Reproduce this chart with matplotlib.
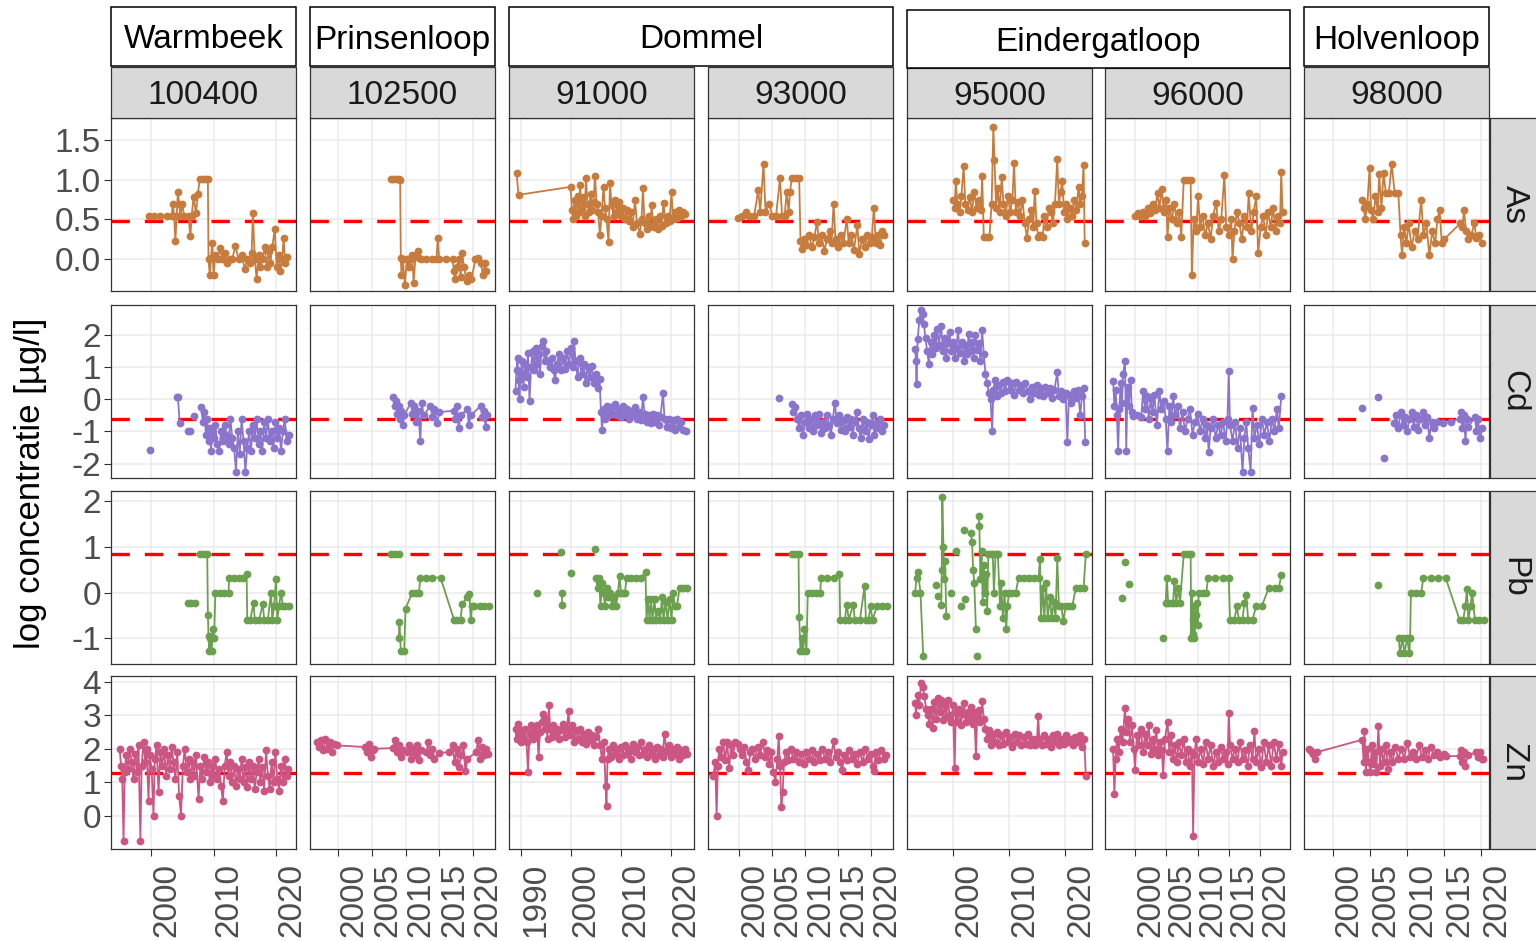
import numpy as np
import matplotlib
matplotlib.use("Agg")
import matplotlib.pyplot as plt
from matplotlib.patches import Rectangle

plt.rcParams['font.family'] = ['Liberation Sans', 'DejaVu Sans']

# ---------------- data ----------------
stations = ['100400', '102500', '91000', '93000', '95000', '96000', '98000']
rivers = ['Warmbeek', 'Prinsenloop', 'Dommel', 'Eindergatloop', 'Holvenloop']
river_cols = [[0], [1], [2, 3], [4, 5], [6]]
metals = ['As', 'Cd', 'Pb', 'Zn']
thresholds = [0.477, -0.62, 0.84, 1.29]
metal_colors = ['#C77C3E', '#8B74CC', '#6BA04F', '#CB5683']

x_ticks = [[2000, 2010, 2020], [2000, 2005, 2010, 2015, 2020], [1990, 2000, 2010, 2020],
           [2000, 2005, 2010, 2015, 2020], [2000, 2010, 2020],
           [2000, 2005, 2010, 2015, 2020], [2000, 2005, 2010, 2015, 2020]]
y_ticks = [[0.0, 0.5, 1.0, 1.5], [-2, -1, 0, 1, 2], [-1, 0, 1, 2], [0, 1, 2, 3, 4]]
y_ticklabels = [['0.0', '0.5', '1.0', '1.5'], ['-2', '-1', '0', '1', '2'],
                ['-1', '0', '1', '2'], ['0', '1', '2', '3', '4']]

# None = break in the line
AS_100400 = [(1999.6,0.54),(2000.5,0.54),(2001.5,0.54),(2002.5,0.54),(2003.3,0.54),(2003.5,0.70),(2003.7,0.54),(2003.9,0.23),(2004.1,0.54),(2004.3,0.85),(2004.5,0.70),(2004.7,0.54),(2005.0,0.70),(2005.3,0.54),(2006.0,0.54),(2006.3,0.29),(2006.5,0.54),(2006.8,0.78),(2007.2,0.58),(2007.5,0.82),(2007.8,1.01),(2008.3,1.01),(2008.8,1.01),(2009.1,1.01),(2009.2,0.0),(2009.4,-0.2),(2009.6,0.02),(2009.8,0.2),(2010.0,-0.2),(2010.3,0.05),(2010.7,0.0),(2011.0,0.14),(2011.4,0.0),(2011.8,0.08),(2012.2,-0.05),(2012.6,0.0),(2013.0,0.0),(2013.5,0.17),(2014.0,0.0),(2014.5,0.05),(2015.0,-0.12),(2015.4,0.0),(2015.8,-0.05),(2016.1,0.08),(2016.3,0.58),(2016.6,0.0),(2016.9,-0.25),(2017.2,0.05),(2017.5,-0.1),(2017.8,0.0),(2018.2,0.15),(2018.5,-0.1),(2018.8,0.1),(2019.1,-0.05),(2019.4,0.15),(2019.8,0.38),(2020.1,-0.1),(2020.4,0.05),(2020.7,-0.15),(2021.0,0.0),(2021.2,0.27),(2021.5,-0.05),(2021.8,0.03)]
AS_102500 = [(2007.8,1.01),(2008.2,1.01),(2008.6,1.01),(2009.0,1.01),(2009.2,1.0),(2009.3,0.02),(2009.4,-0.2),(2009.6,0.0),(2009.9,-0.32),(2010.2,0.0),(2010.5,-0.1),(2010.8,0.0),(2011.0,0.05),(2011.2,-0.3),(2011.5,0.05),(2011.8,0.1),(2012.0,0.02),(2012.3,0.0),(2013.0,0.0),(2014.0,0.0),(2014.6,0.0),(2014.8,0.27),(2015.0,0.0),(2016.0,0.0),(2017.0,0.0),(2017.2,-0.15),(2017.4,-0.25),(2017.6,-0.1),(2017.9,0.0),(2018.2,-0.22),(2018.4,0.08),(2018.7,-0.1),(2019.1,-0.28),(2019.5,-0.2),(2019.8,-0.25),(2020.4,0.0),(2020.8,0.02),(2021.2,-0.05),(2021.5,-0.2),(2021.8,-0.05),(2022.0,-0.15)]
AS_91000 = [(1989.2,1.09),(1989.6,0.81),(2000.0,0.91),(2000.3,0.62),(2000.5,0.5),(2000.8,0.75),(2001.1,0.55),(2001.4,0.8),(2001.7,0.6),(2001.9,0.93),(2002.2,0.65),(2002.5,0.78),(2002.8,0.55),(2003.1,1.02),(2003.4,0.7),(2003.7,0.6),(2004.0,0.82),(2004.3,0.62),(2004.6,0.72),(2004.9,1.05),(2005.2,0.7),(2005.5,0.6),(2005.9,0.3),(2006.2,0.55),(2006.6,0.91),(2006.9,0.65),(2007.2,0.5),(2007.6,0.22),(2007.9,0.96),(2008.2,0.68),(2008.6,0.55),(2008.9,0.75),(2009.3,0.6),(2009.6,0.72),(2010.0,0.55),(2010.4,0.65),(2010.8,0.5),(2011.2,0.62),(2011.6,0.48),(2012.0,0.6),(2012.4,0.4),(2012.9,0.74),(2013.3,0.45),(2013.9,0.32),(2014.2,0.5),(2014.5,0.89),(2014.8,0.45),(2015.2,0.38),(2015.6,0.55),(2016.0,0.42),(2016.2,0.68),(2016.6,0.4),(2017.0,0.5),(2017.4,0.38),(2017.8,0.55),(2018.2,0.42),(2018.6,0.71),(2019.0,0.45),(2019.4,0.55),(2019.8,0.48),(2020.2,0.84),(2020.5,0.5),(2020.9,0.6),(2021.3,0.52),(2021.7,0.62),(2022.1,0.55),(2022.5,0.6),(2022.9,0.57)]
AS_93000 = [(1999.9,0.52),(2000.5,0.55),(2001.0,0.6),(2001.5,0.55),(2002.3,0.55),(2002.9,0.87),(2003.2,0.6),(2003.7,1.2),(2004.0,0.6),(2004.6,0.7),(2005.0,0.55),(2005.6,0.55),(2006.2,1.02),(2006.5,0.55),(2006.9,0.55),(2007.2,0.84),(2007.5,0.6),(2007.7,0.84),(2008.0,1.02),(2008.6,1.02),(2009.1,1.02),(2009.3,0.23),(2009.5,0.13),(2009.8,0.25),(2010.2,0.18),(2010.6,0.3),(2011.0,0.15),(2011.4,0.28),(2011.8,0.47),(2012.1,0.2),(2012.5,0.3),(2012.9,0.1),(2013.3,0.25),(2013.7,0.35),(2014.0,0.2),(2014.3,0.7),(2014.6,0.25),(2015.0,0.15),(2015.4,0.3),(2015.8,0.2),(2016.3,0.51),(2016.6,0.2),(2017.0,0.3),(2017.4,0.12),(2017.9,0.43),(2018.2,0.06),(2018.6,0.25),(2019.0,0.15),(2019.4,0.3),(2019.8,0.2),(2020.1,0.28),(2020.4,0.65),(2020.7,0.2),(2021.0,0.3),(2021.4,0.18),(2021.7,0.35),(2022.0,0.3)]
AS_95000 = [(2000.0,0.75),(2000.3,0.65),(2000.5,0.98),(2000.8,0.7),(2001.2,0.6),(2001.5,0.8),(2001.9,1.17),(2002.2,0.7),(2002.6,0.62),(2003.0,0.78),(2003.4,0.6),(2003.8,0.85),(2004.2,0.65),(2004.6,0.75),(2005.0,0.62),(2005.2,1.05),(2005.5,0.28),(2006.0,0.28),(2006.5,0.28),(2006.9,0.7),(2007.2,1.67),(2007.4,1.25),(2007.7,0.65),(2008.0,0.9),(2008.3,0.6),(2008.7,1.03),(2009.0,0.7),(2009.4,0.55),(2009.8,0.8),(2010.2,0.6),(2010.6,0.75),(2010.9,1.21),(2011.2,0.6),(2011.6,0.72),(2012.0,0.55),(2012.4,0.75),(2012.8,0.45),(2013.2,0.27),(2013.6,0.5),(2014.0,0.62),(2014.3,0.4),(2014.6,0.86),(2014.9,0.45),(2015.2,0.28),(2015.6,0.3),(2016.0,0.28),(2016.3,0.55),(2016.7,0.4),(2017.1,0.65),(2017.5,0.59),(2017.8,0.45),(2018.2,0.7),(2018.6,1.26),(2018.9,0.7),(2019.2,0.85),(2019.5,0.98),(2019.8,0.6),(2020.1,0.7),(2020.4,0.5),(2020.8,0.65),(2021.2,0.55),(2021.6,0.75),(2022.0,0.62),(2022.4,0.91),(2022.7,0.7),(2023.0,0.8),(2023.3,1.19),(2023.5,0.2)]
AS_96000 = [(2000.0,0.54),(2000.4,0.58),(2000.8,0.54),(2001.2,0.6),(2001.6,0.55),(2002.0,0.65),(2002.4,0.58),(2002.8,0.7),(2003.2,0.62),(2003.6,0.83),(2003.9,0.65),(2004.3,0.88),(2004.6,0.6),(2005.0,0.75),(2005.2,0.28),(2005.5,0.65),(2005.9,0.5),(2006.3,0.7),(2006.7,0.45),(2007.1,0.6),(2007.4,0.28),(2007.8,1.0),(2008.3,1.0),(2008.9,1.0),(2009.1,-0.2),(2009.4,0.5),(2009.8,0.35),(2010.1,0.8),(2010.4,0.4),(2010.8,0.55),(2011.2,0.3),(2011.7,0.45),(2012.1,0.25),(2012.5,0.55),(2013.0,0.71),(2013.4,0.35),(2013.8,0.5),(2014.3,1.06),(2014.6,0.4),(2015.0,0.3),(2015.4,0.5),(2015.6,0.0),(2015.9,0.35),(2016.3,0.6),(2016.7,0.45),(2017.1,0.25),(2017.5,0.55),(2017.9,0.4),(2018.2,0.83),(2018.6,0.35),(2019.0,0.6),(2019.4,0.79),(2019.7,0.08),(2020.1,0.4),(2020.5,0.55),(2020.9,0.3),(2021.3,0.6),(2021.7,0.4),(2022.1,0.65),(2022.5,0.35),(2022.9,0.55),(2023.2,0.45),(2023.4,1.1),(2023.6,0.59)]
AS_98000 = [(2003.9,0.75),(2004.1,0.65),(2004.3,0.5),(2004.6,0.7),(2004.9,1.15),(2005.1,0.62),(2005.4,0.5),(2005.7,0.8),(2006.0,0.6),(2006.2,1.07),(2006.5,0.65),(2006.8,1.09),(2007.1,0.83),(2007.5,0.83),(2007.9,1.2),(2008.3,0.83),(2008.8,0.83),(2009.1,0.3),(2009.3,0.05),(2009.6,0.4),(2009.9,0.2),(2010.2,0.45),(2010.6,0.15),(2011.0,0.35),(2011.4,0.25),(2011.9,0.75),(2012.2,0.3),(2012.6,0.45),(2013.0,0.05),(2013.4,0.35),(2013.8,0.2),(2014.1,0.5),(2014.4,0.62),(2014.7,0.2),(2015.0,0.25),(2017.2,0.45),(2017.5,0.4),(2017.7,0.62),(2018.0,0.35),(2018.3,0.25),(2018.7,0.3),(2019.1,0.45),(2019.4,0.27),(2019.8,0.3),(2020.2,0.2)]

CD_100400 = [(1999.85,-1.59),None,(2004.1,0.07),(2004.3,0.07),(2004.6,-0.75),None,(2005.9,-1.0),(2006.2,-1.0),None,(2006.8,-0.52),None,(2008.0,-0.23),(2008.3,-0.7),(2008.5,-0.4),(2008.8,-1.1),(2009.0,-0.6),(2009.2,-1.3),(2009.4,-0.9),(2009.6,-1.6),(2009.8,-1.0),(2010.0,-1.2),(2010.3,-0.8),(2010.6,-1.4),(2010.9,-1.6),(2011.2,-1.0),(2011.5,-1.3),(2011.8,-0.8),(2012.1,-1.1),(2012.4,-1.4),(2012.7,-0.6),(2013.0,-1.2),(2013.3,-1.5),(2013.6,-2.25),(2013.9,-1.0),(2014.2,-1.7),(2014.5,-0.6),(2014.8,-1.3),(2015.1,-2.25),(2015.4,-1.5),(2015.7,-1.0),(2016.0,-1.6),(2016.3,-0.8),(2016.6,-1.2),(2016.9,-0.6),(2017.2,-1.4),(2017.5,-1.0),(2017.8,-1.6),(2018.1,-0.7),(2018.4,-1.2),(2018.7,-0.6),(2019.0,-1.3),(2019.3,-1.0),(2019.6,-1.5),(2019.9,-0.7),(2020.2,-1.2),(2020.5,-0.9),(2020.8,-1.6),(2021.1,-1.0),(2021.4,-0.6),(2021.7,-1.3),(2022.0,-1.1)]
CD_102500 = [(2008.2,0.07),(2008.4,-0.2),(2008.6,-0.05),(2008.8,-0.45),(2009.0,-0.2),(2009.2,-0.6),(2009.4,-0.35),(2009.6,-0.8),(2009.8,-0.5),(2010.8,-0.1),(2011.0,-0.45),(2011.3,-0.2),(2011.6,-0.7),(2011.9,-0.35),(2012.2,-1.31),(2012.4,-0.1),(2012.7,-0.5),(2013.7,-0.2),(2014.0,-0.55),(2014.3,-0.3),(2014.7,-0.75),(2015.0,-0.4),(2017.2,-0.35),(2017.4,-0.6),(2017.6,-0.2),(2017.9,-0.9),(2018.2,-0.5),(2019.2,-0.3),(2019.4,-0.8),(2019.7,-0.5),(2021.2,-0.2),(2021.4,-0.55),(2021.6,-0.35),(2021.9,-0.85),(2022.1,-0.5)]
CD_91000 = [(1989.0,0.26),(1989.2,0.9),(1989.4,1.3),(1989.6,0.6),(1989.8,0.0),(1990.0,0.8),(1990.3,1.2),(1990.6,0.4),(1990.9,1.1),(1991.2,0.7),(1991.5,1.45),(1991.8,-0.05),(1992.1,1.0),(1992.4,1.5),(1992.7,0.9),(1993.0,1.6),(1993.3,1.1),(1993.6,1.4),(1993.9,0.8),(1994.2,1.65),(1994.5,1.83),(1994.8,1.2),(1995.1,1.5),(1995.4,1.2),(1995.8,1.0),(1996.2,1.3),(1996.6,0.9),(1996.9,0.6),(1997.3,1.1),(1997.7,1.4),(1998.1,0.9),(1998.5,1.3),(1998.9,0.95),(1999.3,1.5),(1999.7,1.1),(2000.1,1.6),(2000.5,1.0),(2000.7,1.83),(2001.0,1.2),(2001.4,0.7),(2001.8,1.3),(2002.2,0.8),(2002.6,1.1),(2003.0,0.5),(2003.4,1.0),(2003.8,0.7),(2004.2,1.05),(2004.6,0.5),(2005.0,0.8),(2005.4,0.35),(2005.8,0.65),(2006.1,-0.4),(2006.3,-0.95),(2006.6,-0.3),(2006.9,-0.6),(2007.3,-0.2),(2007.7,-0.5),(2008.1,-0.25),(2008.5,-0.45),(2008.9,-0.15),(2009.3,-0.5),(2009.7,-0.3),(2010.1,-0.55),(2010.5,-0.2),(2010.9,-0.45),(2011.3,-0.3),(2011.7,-0.6),(2012.1,-0.35),(2012.5,-0.5),(2012.9,-0.25),(2013.3,-0.6),(2013.7,-0.4),(2014.1,-0.65),(2014.5,0.07),(2014.8,-0.45),(2015.2,-0.7),(2015.6,-0.5),(2016.0,-0.75),(2016.4,-0.45),(2016.8,-0.7),(2017.2,-0.5),(2017.6,-0.8),(2018.0,-0.55),(2018.5,0.2),(2018.8,-0.6),(2019.2,-0.85),(2019.6,-0.6),(2020.0,-0.9),(2020.4,-0.65),(2020.8,-0.95),(2021.2,-0.6),(2021.6,-0.85),(2022.0,-0.7),(2022.5,-0.95),(2023.0,-1.0)]
CD_93000 = [(2006.1,0.05),None,(2008.0,-0.16),(2008.2,-0.4),(2008.5,-0.25),(2008.8,-0.6),(2009.1,-0.9),(2009.4,-0.5),(2009.7,-1.1),(2010.0,-0.7),(2010.3,-0.45),(2010.6,-0.9),(2010.9,-0.6),(2011.2,-1.0),(2011.5,-0.5),(2011.8,-0.8),(2012.1,-0.45),(2012.4,-1.05),(2012.7,-0.7),(2013.0,-0.9),(2013.3,-0.5),(2013.6,-0.8),(2013.9,-1.1),(2014.2,-0.6),(2014.5,-0.1),(2014.8,-0.75),(2015.1,-0.5),(2015.4,-0.95),(2015.7,-0.65),(2016.0,-1.0),(2016.3,-0.55),(2016.6,-0.85),(2016.9,-0.6),(2017.2,-1.1),(2017.5,-0.7),(2017.8,-0.4),(2018.1,-0.9),(2018.4,-1.2),(2018.7,-0.6),(2019.0,-1.0),(2019.3,-0.7),(2019.6,-1.25),(2019.9,-0.8),(2020.2,-0.5),(2020.5,-1.1),(2020.8,-0.75),(2021.1,-0.9),(2021.4,-0.6),(2021.7,-1.0),(2022.0,-0.8)]
CD_95000 = [(1993.25,1.57),(1993.4,1.2),(1993.5,0.47),(1993.7,1.88),(1994.0,2.46),(1994.3,2.78),(1994.6,2.67),(1994.8,2.36),(1995.1,1.9),(1995.4,1.5),(1995.7,1.1),(1996.0,1.8),(1996.3,1.4),(1996.6,2.0),(1996.9,1.6),(1997.2,2.2),(1997.5,1.7),(1997.9,2.3),(1998.2,1.5),(1998.5,1.9),(1998.8,1.3),(1999.1,1.75),(1999.4,2.1),(1999.7,1.5),(2000.0,1.8),(2000.3,1.3),(2000.6,1.6),(2000.9,2.15),(2001.2,1.45),(2001.6,1.8),(2001.9,1.2),(2002.2,1.7),(2002.5,1.4),(2002.8,2.05),(2003.1,1.5),(2003.4,1.8),(2003.7,1.3),(2004.0,2.0),(2004.3,1.55),(2004.6,1.75),(2004.9,1.2),(2005.2,2.15),(2005.5,1.4),(2005.8,0.8),(2006.1,0.5),(2006.4,0.2),(2006.7,0.0),(2007.0,-1.0),(2007.2,0.3),(2007.5,0.6),(2007.8,0.1),(2008.1,0.45),(2008.5,0.2),(2008.9,0.55),(2009.3,0.25),(2009.7,0.6),(2010.1,0.3),(2010.5,0.5),(2010.9,0.15),(2011.3,0.55),(2011.7,0.3),(2012.1,0.45),(2012.5,0.2),(2012.9,0.5),(2013.3,0.25),(2013.7,0.0),(2014.1,0.4),(2014.5,0.2),(2014.9,0.45),(2015.3,0.15),(2015.7,0.35),(2016.1,0.1),(2016.5,0.4),(2016.9,0.2),(2017.3,0.35),(2017.7,0.05),(2018.1,0.3),(2018.6,0.84),(2018.9,0.1),(2019.3,0.25),(2019.7,0.0),(2020.1,0.2),(2020.4,-1.32),(2020.7,0.15),(2021.1,-0.1),(2021.5,0.25),(2021.9,0.05),(2022.3,0.3),(2022.7,-0.5),(2023.0,0.1),(2023.3,0.35),(2023.6,-1.32)]
CD_96000 = [(1996.5,0.58),(1996.7,-0.2),(1996.9,0.3),(1997.1,-0.5),(1997.3,-1.6),(1997.5,-0.3),(1997.7,0.5),(1997.9,-0.1),(1998.1,0.8),(1998.4,1.2),(1998.6,-1.6),(1998.8,0.4),(1999.0,-0.2),(1999.3,0.6),(1999.5,-0.4),(1999.7,-0.51),(2000.3,-0.5),(2001.0,-0.55),(2001.3,0.26),(2001.6,-0.3),(2001.9,0.1),(2002.2,-0.6),(2002.5,0.0),(2002.8,-0.4),(2003.1,0.15),(2003.5,-0.8),(2003.9,0.26),(2004.2,-0.3),(2004.6,-0.05),(2004.9,-0.6),(2005.2,-1.6),(2005.5,-0.2),(2005.8,-0.7),(2006.1,0.1),(2006.4,-0.5),(2006.8,-0.2),(2007.2,-0.9),(2007.6,-0.4),(2008.0,-1.0),(2008.4,-0.6),(2008.8,-0.3),(2009.2,-1.1),(2009.6,-0.7),(2010.0,-0.45),(2010.4,-1.0),(2010.8,-0.6),(2011.2,-1.2),(2011.5,-0.8),(2011.8,-1.64),(2012.1,-0.9),(2012.5,-0.6),(2012.9,-1.2),(2013.3,-0.8),(2013.7,-1.1),(2014.1,-0.7),(2014.5,-1.3),(2014.8,-0.6),(2015.0,0.89),(2015.2,-0.8),(2015.6,-1.3),(2016.0,-0.7),(2016.4,-1.5),(2016.8,-0.9),(2017.2,-2.25),(2017.5,-1.2),(2017.8,-0.7),(2018.1,-1.5),(2018.5,-2.25),(2018.8,-0.26),(2019.1,-1.2),(2019.5,-0.8),(2019.9,-1.4),(2020.3,-0.6),(2020.7,-1.1),(2021.1,-0.7),(2021.5,-1.3),(2021.9,-0.6),(2022.3,-1.0),(2022.7,-0.3),(2023.0,-0.9),(2023.4,0.1)]
CD_98000 = [(2003.9,-0.26),None,(2006.1,0.07),None,(2006.9,-1.83),None,(2008.2,-0.73),(2008.5,-0.5),(2008.8,-0.9),(2009.1,-0.4),(2009.4,-0.8),(2009.7,-0.55),(2010.0,-1.0),(2010.3,-0.6),(2010.6,-0.4),(2010.9,-0.85),(2011.2,-0.5),(2011.5,-0.95),(2011.8,-0.6),(2012.1,-0.4),(2012.4,-0.8),(2012.7,-0.55),(2013.0,-1.2),(2013.3,-0.7),(2013.6,-0.9),(2014.0,-0.7),(2014.9,-0.75),(2016.0,-0.7),(2017.1,-0.6),(2017.3,-0.4),(2017.5,-0.9),(2017.7,-0.5),(2017.9,-1.3),(2018.1,-0.6),(2018.3,-0.85),(2019.2,-0.55),(2019.4,-1.0),(2019.6,-0.6),(2019.9,-1.2),(2020.2,-0.9)]

PB_100400 = [(2005.9,-0.22),(2006.4,-0.22),(2007.0,-0.22),None,(2007.8,0.84),(2008.4,0.84),(2009.0,0.84),(2009.1,-0.48),(2009.2,-0.95),(2009.3,-1.28),(2009.5,-1.0),(2009.7,-1.28),(2009.9,-0.8),(2010.1,-1.0),(2010.3,0.0),(2011.0,0.0),(2011.7,0.0),(2012.4,0.0),(2012.5,0.33),(2013.2,0.33),(2014.0,0.33),(2014.7,0.33),(2015.3,0.4),(2015.4,-0.59),(2015.9,-0.59),(2016.4,-0.22),(2016.6,-0.59),(2017.3,-0.59),(2017.9,-0.25),(2018.1,-0.59),(2018.7,-0.59),(2019.2,0.0),(2019.4,-0.59),(2019.7,-0.29),(2020.0,0.3),(2020.2,-0.59),(2020.5,-0.29),(2020.8,0.0),(2021.1,-0.29),(2021.5,-0.29),(2022.0,-0.29)]
PB_102500 = [(2007.8,0.84),(2008.4,0.84),(2009.0,0.84),None,(2009.0,-1.0),(2009.1,-0.65),(2009.3,-1.28),(2009.8,-1.28),(2010.0,-0.35),(2011.0,0.0),(2011.5,0.0),(2012.0,0.0),(2012.2,0.33),(2013.0,0.33),(2014.0,0.33),(2015.2,0.33),(2017.2,-0.59),(2017.7,-0.59),(2018.2,-0.59),(2018.4,-0.25),(2019.2,-0.1),(2019.5,-0.04),(2019.7,-0.6),(2019.9,-0.29),(2020.2,-0.29),(2021.0,-0.29),(2021.7,-0.29),(2022.4,-0.29)]
PB_91000 = [(1993.2,0.0),None,(1998.1,0.88),None,(1998.3,0.0),(1998.3,-0.26),None,(2000.1,0.42),None,(2004.9,0.95),None,(2005.1,0.33),(2005.4,0.1),(2005.7,0.33),(2006.0,-0.3),(2006.3,0.2),(2006.6,0.0),(2006.9,-0.3),(2007.2,0.1),(2007.5,-0.1),(2007.9,0.0),(2008.3,-0.3),(2008.7,-0.1),(2009.1,-0.3),(2009.5,0.0),(2009.8,0.36),(2010.1,0.0),(2010.5,0.0),(2010.9,0.0),(2011.2,0.33),(2012.0,0.33),(2013.0,0.33),(2014.0,0.33),(2015.0,0.44),(2015.2,-0.59),(2015.5,-0.15),(2015.8,-0.59),(2016.1,-0.15),(2016.4,-0.59),(2016.8,-0.15),(2017.1,-0.59),(2017.5,-0.4),(2017.9,-0.59),(2018.3,-0.1),(2018.6,-0.59),(2019.0,-0.2),(2019.4,-0.59),(2019.8,-0.15),(2020.2,-0.59),(2020.5,0.0),(2020.9,-0.3),(2021.3,-0.3),(2021.8,0.1),(2022.5,0.1),(2023.2,0.1)]
PB_93000 = [(2008.0,0.84),(2008.5,0.84),(2009.0,0.84),(2009.1,-0.54),(2009.3,-1.28),(2009.5,-1.0),(2009.7,-1.28),(2009.9,-0.8),(2010.2,-1.28),(2010.4,0.0),(2011.0,0.0),(2011.7,0.0),(2012.3,0.0),(2012.4,0.33),(2013.3,0.33),(2014.3,0.33),(2015.2,0.4),(2015.3,-0.59),(2016.0,-0.59),(2016.3,-0.26),(2016.6,-0.59),(2017.3,-0.26),(2017.5,-0.59),(2018.3,-0.59),(2019.0,0.15),(2019.2,-0.59),(2019.6,-0.59),(2019.9,-0.3),(2020.2,-0.59),(2020.9,-0.29),(2021.6,-0.29),(2022.4,-0.29)]
PB_95000 = [(1993.25,0.0),(1993.5,0.33),(1993.8,0.44),(1994.2,0.0),(1994.7,-1.39),None,(1996.9,0.16),None,(1997.4,-0.08),None,(1997.9,-0.26),(1998.0,0.5),(1998.1,2.09),(1998.3,1.0),(1998.4,0.3),None,(1998.6,0.7),(1998.8,-0.52),None,(1999.6,0.0),None,(2000.5,0.9),None,(2001.5,-0.3),None,(2001.9,1.37),None,(2002.2,-0.15),None,(2003.2,1.3),(2003.4,1.1),(2003.6,0.5),(2003.8,0.2),(2004.1,-0.8),None,(2004.3,-1.39),None,(2004.6,1.68),(2004.7,1.46),(2004.9,0.3),(2005.1,0.9),(2005.3,-0.2),(2005.5,0.6),(2005.7,0.0),(2005.9,0.4),(2006.1,-0.4),(2006.3,0.84),(2006.7,0.84),(2007.1,0.84),(2007.3,0.0),(2007.6,0.84),(2008.0,0.84),(2008.4,-0.3),(2008.6,0.2),(2008.9,-0.55),(2009.2,0.0),(2009.5,-0.8),(2009.7,-0.3),(2010.0,0.0),(2010.6,0.0),(2011.2,0.0),(2011.7,0.33),(2012.6,0.33),(2013.5,0.33),(2014.4,0.33),(2015.3,0.33),(2015.5,0.73),(2015.7,-0.56),(2016.0,0.1),(2016.3,-0.56),(2016.6,0.2),(2016.9,-0.56),(2017.3,-0.1),(2017.6,-0.56),(2018.0,-0.2),(2018.3,-0.56),(2018.6,0.76),(2018.9,-0.29),(2019.3,-0.29),(2019.7,-0.62),(2020.1,-0.29),(2020.7,-0.29),(2021.3,-0.29),(2021.9,0.1),(2022.6,0.1),(2023.3,0.1),(2023.7,0.84)]
PB_96000 = [(1997.9,-0.12),None,(1998.4,0.66),None,(1999.0,0.18),None,(2004.5,-1.0),None,(2004.9,-0.22),(2005.1,0.31),(2005.3,-0.22),(2005.7,-0.22),(2006.1,-0.22),(2006.3,0.26),(2006.6,-0.22),(2006.9,0.1),(2007.2,-0.22),(2007.8,0.84),(2008.4,0.84),(2008.9,0.84),(2009.0,-1.0),(2009.1,0.0),(2009.2,-0.6),(2009.3,-0.9),(2009.4,-0.3),(2009.5,-1.0),(2009.7,-0.5),(2009.9,-0.22),(2010.0,-0.7),(2010.2,0.0),(2010.8,0.0),(2011.4,0.0),(2011.7,0.33),(2012.8,0.33),(2014.0,0.33),(2015.0,0.33),(2015.2,-0.59),(2015.9,-0.59),(2016.3,-0.3),(2016.6,-0.59),(2017.2,-0.59),(2017.5,-0.22),(2017.8,-0.05),(2018.1,-0.59),(2018.8,-0.59),(2019.4,-0.29),(2020.3,-0.29),(2021.4,0.1),(2022.4,0.1),(2023.0,0.1),(2023.4,0.38)]
PB_98000 = [(2006.1,0.16),None,(2008.9,-1.0),(2009.0,-1.33),(2009.4,-1.0),(2009.6,-1.33),(2010.0,-1.0),(2010.3,-1.33),(2010.4,-1.0),(2010.5,0.0),(2011.2,0.0),(2011.9,0.0),(2012.2,0.33),(2013.2,0.33),(2014.2,0.33),(2015.2,0.33),(2017.1,-0.59),(2017.6,-0.59),(2017.9,-0.29),(2018.1,0.07),(2018.3,-0.59),(2018.6,-0.29),(2018.8,0.0),(2019.2,-0.6),(2019.8,-0.6),(2020.4,-0.6)]

ZN_100400 = [(1995.0,1.98),(1995.2,1.5),(1995.4,1.1),(1995.6,-0.74),(1995.8,1.3),(1996.0,1.8),(1996.3,1.4),(1996.6,2.0),(1996.9,1.6),(1997.2,1.1),(1997.5,1.85),(1997.8,1.3),(1998.0,2.1),(1998.3,-0.74),(1998.5,1.5),(1998.8,2.2),(1999.1,1.6),(1999.3,2.0),(1999.6,0.43),(1999.8,1.8),(2000.1,1.4),(2000.4,0.0),(2000.6,1.7),(2000.9,2.1),(2001.2,0.7),(2001.5,1.9),(2001.8,1.5),(2002.1,2.0),(2002.4,1.2),(2002.7,1.8),(2003.0,1.4),(2003.3,2.05),(2003.6,1.6),(2003.9,1.1),(2004.2,1.9),(2004.5,0.6),(2004.8,0.0),(2005.1,1.5),(2005.4,2.0),(2005.7,1.3),(2006.0,1.7),(2006.3,1.1),(2006.6,1.6),(2006.9,1.2),(2007.2,1.8),(2007.6,0.5),(2007.9,1.5),(2008.2,1.1),(2008.5,1.75),(2008.8,1.3),(2009.1,1.6),(2009.4,1.0),(2009.7,1.5),(2010.0,1.2),(2010.3,1.7),(2010.6,1.1),(2010.9,1.4),(2011.2,0.9),(2011.5,0.43),(2011.8,1.5),(2012.1,1.9),(2012.4,1.2),(2012.7,1.6),(2013.0,1.0),(2013.3,1.5),(2013.6,0.9),(2013.9,1.4),(2014.2,1.1),(2014.5,1.7),(2014.8,1.0),(2015.1,1.45),(2015.4,0.85),(2015.7,1.6),(2016.0,1.1),(2016.3,1.5),(2016.6,0.8),(2016.9,1.3),(2017.2,1.7),(2017.5,1.0),(2017.8,1.45),(2018.1,0.75),(2018.4,1.95),(2018.7,1.2),(2019.0,0.8),(2019.3,1.6),(2019.6,1.0),(2019.9,1.9),(2020.2,1.1),(2020.5,0.75),(2020.8,1.5),(2021.1,1.0),(2021.4,1.7),(2021.7,1.2),(2021.9,1.4)]
ZN_102500 = [(1996.9,2.2),(1997.2,2.05),(1997.5,2.25),(1997.8,1.95),(1998.1,2.3),(1998.4,2.0),(1998.7,2.2),(1999.0,1.9),(1999.3,2.15),(1999.8,2.1),(2004.0,2.05),(2004.3,1.9),(2004.5,2.15),(2004.8,1.75),(2005.1,1.95),(2005.3,2.0),(2008.1,2.02),(2008.4,2.25),(2008.7,1.9),(2009.0,2.1),(2009.3,1.75),(2009.6,1.95),(2010.2,1.9),(2010.5,2.1),(2010.8,1.7),(2011.1,2.0),(2011.4,1.8),(2011.7,2.1),(2012.0,1.65),(2012.3,1.95),(2013.1,1.9),(2013.4,2.2),(2013.7,1.8),(2014.0,2.0),(2014.3,1.7),(2015.0,1.88),(2016.5,1.9),(2017.0,2.1),(2017.3,1.6),(2017.6,2.0),(2017.9,1.45),(2018.3,1.8),(2018.6,2.1),(2018.9,1.33),(2019.2,1.7),(2020.5,1.9),(2020.8,2.25),(2021.1,1.7),(2021.4,2.05),(2021.7,1.8),(2022.0,2.0),(2022.3,1.85)]
ZN_91000 = [(1989.0,2.6),(1989.2,2.3),(1989.4,2.75),(1989.7,2.4),(1990.0,2.2),(1990.3,2.55),(1990.6,2.3),(1990.9,2.6),(1991.2,2.2),(1991.5,1.32),(1991.8,2.45),(1992.1,2.7),(1992.4,2.3),(1992.7,2.6),(1993.0,2.35),(1993.3,2.7),(1993.6,1.75),(1993.9,2.5),(1994.2,2.8),(1994.5,3.05),(1994.8,2.6),(1995.1,2.9),(1995.4,2.3),(1995.7,3.31),(1995.9,2.6),(1996.2,2.35),(1996.5,2.7),(1996.9,2.45),(1997.3,2.6),(1997.7,2.3),(1998.1,2.55),(1998.5,2.75),(1998.9,2.35),(1999.3,2.6),(1999.6,3.14),(1999.9,2.4),(2000.3,2.7),(2000.7,2.2),(2001.1,2.55),(2001.5,2.3),(2001.9,2.6),(2002.3,2.2),(2002.7,2.45),(2003.1,2.15),(2003.5,2.5),(2003.9,2.25),(2004.3,2.4),(2004.7,2.1),(2005.1,2.35),(2005.5,2.6),(2005.9,2.1),(2006.3,1.7),(2006.7,2.2),(2007.0,0.9),(2007.2,0.3),(2007.4,1.7),(2007.7,2.0),(2008.0,1.75),(2008.4,2.1),(2008.8,1.85),(2009.2,2.0),(2009.6,1.7),(2010.0,2.05),(2010.4,1.8),(2010.8,2.1),(2011.2,1.85),(2011.6,2.0),(2012.0,1.7),(2012.4,2.15),(2012.8,1.9),(2013.2,2.05),(2013.6,1.8),(2014.0,2.2),(2014.4,1.85),(2014.8,2.0),(2015.2,1.75),(2015.6,2.1),(2016.0,1.85),(2016.4,2.0),(2016.8,1.7),(2017.2,2.05),(2017.6,1.8),(2018.0,2.0),(2018.4,1.75),(2018.8,2.45),(2019.2,1.9),(2019.6,2.1),(2020.0,1.75),(2020.4,2.0),(2020.8,1.85),(2021.2,2.05),(2021.6,1.7),(2022.0,1.95),(2022.4,1.8),(2022.8,2.0),(2023.2,1.85)]
ZN_93000 = [(1996.1,1.2),(1996.4,1.6),(1996.6,0.0),(1996.8,1.5),(1997.0,2.0),(1997.3,1.75),(1997.6,2.2),(1997.9,1.65),(1998.2,2.2),(1998.5,1.42),(1998.8,2.1),(1999.1,1.8),(1999.4,2.2),(1999.8,2.15),(2000.2,2.0),(2000.5,1.8),(2000.8,2.05),(2001.1,1.6),(2001.4,1.38),(2001.7,1.9),(2002.0,2.0),(2002.4,1.7),(2002.8,2.05),(2003.2,1.8),(2003.6,2.2),(2004.0,1.75),(2004.3,1.95),(2004.6,1.55),(2004.9,1.9),(2005.2,1.3),(2005.5,1.02),(2005.8,1.7),(2006.0,2.37),(2006.2,1.5),(2006.4,0.26),(2006.6,0.7),(2006.8,1.6),(2007.1,1.9),(2007.4,1.65),(2007.8,2.0),(2008.2,1.7),(2008.6,1.9),(2009.0,1.6),(2009.4,1.85),(2009.8,1.55),(2010.2,1.9),(2010.6,1.7),(2011.0,1.95),(2011.4,1.6),(2011.8,1.85),(2012.2,1.65),(2012.6,2.0),(2013.0,1.7),(2013.4,1.9),(2013.8,1.6),(2014.3,2.23),(2014.6,1.75),(2015.0,1.9),(2015.3,1.6),(2015.6,1.38),(2015.9,1.8),(2016.3,1.65),(2016.7,1.95),(2017.1,1.7),(2017.5,1.85),(2017.9,1.55),(2018.3,1.9),(2018.7,1.6),(2019.1,2.0),(2019.5,1.7),(2019.9,1.85),(2020.2,1.5),(2020.4,1.35),(2020.7,1.9),(2021.1,1.65),(2021.5,1.95),(2021.9,1.7),(2022.2,1.8)]
ZN_95000 = [(1993.25,3.36),(1993.4,3.01),(1993.7,3.61),(1994.0,3.3),(1994.3,3.95),(1994.6,3.85),(1994.9,3.56),(1995.2,3.2),(1995.5,3.0),(1995.8,2.75),(1996.1,3.2),(1996.4,2.62),(1996.7,3.4),(1997.0,2.9),(1997.3,3.5),(1997.6,3.1),(1997.9,3.45),(1998.2,2.85),(1998.5,3.3),(1998.8,2.95),(1999.1,3.45),(1999.4,3.0),(1999.7,2.8),(2000.0,3.3),(2000.3,1.43),(2000.5,3.1),(2000.8,2.8),(2001.1,3.2),(2001.4,2.7),(2001.7,3.05),(2002.0,3.35),(2002.3,2.8),(2002.6,3.1),(2002.9,2.9),(2003.2,3.25),(2003.5,2.75),(2003.8,3.1),(2004.1,1.78),(2004.3,2.9),(2004.6,3.15),(2004.9,2.8),(2005.2,3.41),(2005.5,2.9),(2005.8,2.6),(2006.1,2.3),(2006.4,2.55),(2006.7,2.1),(2007.0,2.45),(2007.4,2.2),(2007.8,2.5),(2008.2,2.1),(2008.6,2.4),(2009.0,2.15),(2009.4,2.5),(2009.8,2.2),(2010.2,2.35),(2010.6,2.05),(2011.0,2.45),(2011.4,2.2),(2011.8,2.4),(2012.2,2.1),(2012.6,2.35),(2013.0,2.15),(2013.4,2.45),(2013.8,2.1),(2014.2,2.3),(2014.6,2.1),(2015.0,2.3),(2015.2,2.98),(2015.4,2.3),(2015.8,2.1),(2016.2,2.4),(2016.6,2.15),(2017.0,2.3),(2017.4,2.05),(2017.8,2.4),(2018.2,2.2),(2018.6,2.45),(2019.0,2.1),(2019.4,2.3),(2019.8,2.15),(2020.2,2.4),(2020.6,2.2),(2021.0,2.3),(2021.4,2.1),(2021.8,2.35),(2022.2,2.2),(2022.6,2.4),(2023.0,2.05),(2023.4,2.3),(2023.7,1.2)]
ZN_96000 = [(1996.5,1.98),(1996.7,0.65),(1996.9,1.7),(1997.1,2.3),(1997.4,1.9),(1997.7,2.6),(1998.0,2.2),(1998.4,3.22),(1998.6,2.5),(1998.9,2.9),(1999.2,2.2),(1999.5,2.7),(1999.8,2.0),(2000.0,1.38),(2000.3,2.4),(2000.6,2.1),(2000.9,2.6),(2001.3,1.9),(2001.6,2.45),(2001.9,2.1),(2002.2,2.7),(2002.5,1.85),(2002.8,2.3),(2003.1,2.0),(2003.4,2.55),(2003.7,1.8),(2004.0,2.2),(2004.3,1.95),(2004.5,1.23),(2004.8,2.3),(2005.2,2.8),(2005.5,1.9),(2005.8,2.4),(2006.1,1.7),(2006.4,2.1),(2006.7,1.6),(2007.0,2.2),(2007.4,1.8),(2007.8,2.3),(2008.1,1.6),(2008.4,2.0),(2008.8,1.5),(2009.1,1.9),(2009.3,-0.59),(2009.5,1.8),(2009.8,2.3),(2010.1,1.6),(2010.5,2.0),(2010.9,1.55),(2011.3,2.2),(2011.7,1.7),(2012.1,2.1),(2012.5,1.5),(2012.9,1.9),(2013.3,1.6),(2013.7,2.05),(2014.1,1.7),(2014.5,1.9),(2014.8,1.55),(2015.0,3.06),(2015.2,2.1),(2015.6,1.7),(2016.0,2.0),(2016.4,1.6),(2016.8,2.2),(2017.2,1.7),(2017.6,1.95),(2018.0,1.5),(2018.4,2.1),(2018.8,1.7),(2019.1,2.52),(2019.4,1.6),(2019.8,2.0),(2020.2,1.45),(2020.6,2.2),(2021.0,1.6),(2021.4,2.1),(2021.8,1.5),(2022.2,2.2),(2022.6,1.7),(2023.0,2.15),(2023.4,1.5),(2023.6,1.9)]
ZN_98000 = [(1996.7,1.98),(1996.9,1.93),(1997.2,1.85),(1997.5,1.68),(1997.8,1.9),(2003.9,2.27),(2004.1,1.6),(2004.2,2.52),(2004.4,1.3),(2004.6,2.0),(2004.8,1.6),(2005.0,1.3),(2005.2,2.1),(2005.4,1.55),(2005.6,1.9),(2005.8,1.3),(2006.1,2.67),(2006.3,1.5),(2006.5,2.0),(2006.8,1.6),(2007.1,2.1),(2007.4,1.4),(2007.7,1.9),(2008.0,1.6),(2008.4,2.05),(2008.8,1.7),(2009.2,2.0),(2009.6,1.7),(2010.0,2.17),(2010.4,1.75),(2010.8,1.9),(2011.2,1.7),(2011.6,2.1),(2012.0,1.75),(2012.4,1.95),(2012.8,1.7),(2013.2,2.05),(2013.6,1.8),(2014.0,1.9),(2014.5,1.75),(2015.0,1.85),(2015.2,1.78),(2017.1,1.78),(2017.3,1.95),(2017.5,1.6),(2017.7,1.9),(2017.9,1.48),(2018.2,1.8),(2019.4,1.9),(2019.6,1.75),(2019.9,1.9),(2020.1,1.7),(2020.3,1.68)]

DATA = {
    'As': [AS_100400, AS_102500, AS_91000, AS_93000, AS_95000, AS_96000, AS_98000],
    'Cd': [CD_100400, CD_102500, CD_91000, CD_93000, CD_95000, CD_96000, CD_98000],
    'Pb': [PB_100400, PB_102500, PB_91000, PB_93000, PB_95000, PB_96000, PB_98000],
    'Zn': [ZN_100400, ZN_102500, ZN_91000, ZN_93000, ZN_95000, ZN_96000, ZN_98000],
}

# ---------------- layout (pixels) ----------------
W, H = 1536, 941
col_left = [111, 310, 509, 708, 907, 1105, 1304]
col_w = 185
row_top = [118, 305, 491, 676]
row_h = 173
x_lims = [(1993.6, 2023.2), (1995.8, 2023.3), (1987.7, 2024.7), (1995.3, 2023.3),
          (1991.8, 2024.8), (1995.2, 2024.8), (1996.0, 2021.1)]
y_lims = [(-0.40, 1.777), (-2.45, 2.94), (-1.56, 2.22), (-0.99, 4.17)]

FS = 24
fig = plt.figure(figsize=(W / 100, H / 100), dpi=100)


def fbox(l, t, w, h):
    return [l / W, 1 - (t + h) / H, w / W, h / H]


def to_xy(pairs):
    xs = np.array([np.nan if p is None else p[0] for p in pairs], dtype=float)
    ys = np.array([np.nan if p is None else p[1] for p in pairs], dtype=float)
    return xs, ys


for r, metal in enumerate(metals):
    for c, st in enumerate(stations):
        ax = fig.add_axes(fbox(col_left[c], row_top[r], col_w, row_h))
        ax.set_facecolor('white')
        xt = x_ticks[c]
        ax.set_xticks(xt)
        ax.set_yticks(y_ticks[r])
        ax.set_yticklabels(y_ticklabels[r])
        ax.set_xlim(*x_lims[c])
        ax.set_ylim(*y_lims[r])
        ax.grid(which='major', color='#EBEBEB', linewidth=1.1)
        ax.set_axisbelow(True)
        ax.axhline(thresholds[r], color='#FF0000', linewidth=2.4,
                   linestyle=(0, (5.5, 4.5)), zorder=2)
        xs, ys = to_xy(DATA[metal][c])
        ax.plot(xs, ys, '-', color=metal_colors[r], linewidth=1.3, zorder=3)
        ax.plot(xs, ys, 'o', color=metal_colors[r], markersize=5.6,
                markeredgewidth=0, zorder=4)
        for sp in ax.spines.values():
            sp.set_color('#333333')
            sp.set_linewidth(0.9)
            sp.set_zorder(5)
        ax.tick_params(which='major', length=4.8, width=0.8, color='#333333',
                       labelsize=FS, labelcolor='#4D4D4D', pad=2.5)
        if c != 0:
            ax.tick_params(axis='y', which='major', length=0, labelleft=False)
        if r != 3:
            ax.tick_params(axis='x', which='major', length=0, labelbottom=False)
        else:
            ax.set_xticklabels([str(v) for v in xt])
            for lbl in ax.get_xticklabels():
                lbl.set_rotation(90)
                lbl.set_rotation_mode('anchor')
                lbl.set_ha('right')
                lbl.set_va('top')
            ax.tick_params(axis='x', pad=5)

# station strips
for c, st in enumerate(stations):
    top = 68 if c in (4, 5) else 67
    fig.patches.append(Rectangle((col_left[c] / W, 1 - 118 / H), col_w / W, (118 - top) / H,
                                 transform=fig.transFigure, facecolor='#D9D9D9',
                                 edgecolor='#333333', linewidth=0.9, zorder=1))
    fig.text((col_left[c] + col_w / 2) / W, 1 - ((top + 118) / 2) / H, st,
             ha='center', va='center_baseline', fontsize=FS, color='#1A1A1A')

# river strips
for i, rv in enumerate(rivers):
    cols = river_cols[i]
    left = col_left[cols[0]]
    right = col_left[cols[-1]] + col_w
    top, bot = (10, 68) if rv == 'Eindergatloop' else (7, 66)
    fig.patches.append(Rectangle((left / W, 1 - bot / H), (right - left) / W, (bot - top) / H,
                                 transform=fig.transFigure, facecolor='white',
                                 edgecolor='#000000', linewidth=1.1, zorder=1))
    fig.text(((left + right) / 2) / W, 1 - ((top + bot) / 2) / H, rv,
             ha='center', va='center_baseline', fontsize=FS, color='#000000')

# metal strips on the right
for r, metal in enumerate(metals):
    fig.patches.append(Rectangle((1490 / W, 1 - (row_top[r] + row_h) / H), 50 / W, row_h / H,
                                 transform=fig.transFigure, facecolor='#D9D9D9',
                                 edgecolor='#333333', linewidth=0.9, zorder=1))
    fig.text(1514 / W, 1 - (row_top[r] + row_h / 2) / H, metal, rotation=-90,
             ha='center', va='center', fontsize=FS, color='#1A1A1A')

# y label
fig.text(31 / W, 1 - ((row_top[0] + row_top[3] + row_h) / 2) / H, 'log concentratie [µg/l]',
         rotation=90, ha='center', va='center', fontsize=25, color='#000000')

fig.savefig('out.png', dpi=100)
